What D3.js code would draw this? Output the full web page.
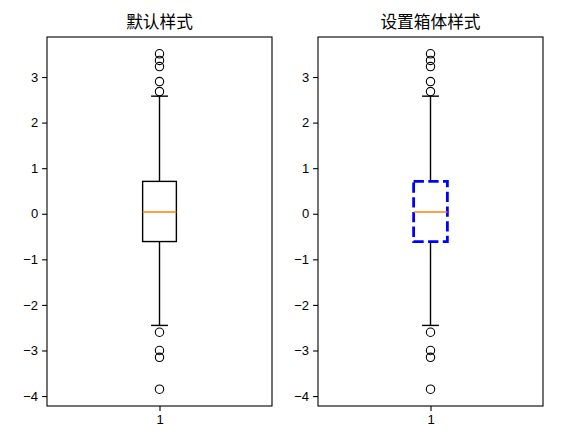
<!DOCTYPE html>
<html>
<head>
<meta charset="utf-8">
<script src="https://d3js.org/d3.v7.min.js"></script>
<style>
body{margin:0;background:#fff;}
svg{display:block;}
text{fill:#000;}
.title{font-family:"Noto Sans CJK SC",sans-serif;}
.tick text{font-family:"Liberation Sans",Arial,sans-serif;}
</style>
</head>
<body>
<div id="chart"></div>
<script>
// box statistics (same sample in both panels)
const titles = ['默认样式', '设置箱体样式'];
const categories = ['1'];
const q1 = [-0.61];
const median = [0.04];
const q3 = [0.71];
const whiskerLow = [-2.45];
const whiskerHigh = [2.58];
const outliers = [3.51, 3.365, 3.23, 2.90, 2.68, -2.60, -3.00, -3.15, -3.85];
const yTicks = [-4, -3, -2, -1, 0, 1, 2, 3];

const width = 572, height = 439;
const panels = [{ left: 47, right: 272 }, { left: 318, right: 543 }];
const plotTop = 37, plotBottom = 406;

const svg = d3.select('#chart').append('svg')
  .attr('width', width)
  .attr('height', height);

const ymin = d3.min([...outliers, ...whiskerLow]);
const ymax = d3.max([...outliers, ...whiskerHigh]);
const pad = (ymax - ymin) * 0.05;

const y = d3.scaleLinear()
  .domain([ymin - pad, ymax + pad])
  .range([plotBottom, plotTop]);

panels.forEach((p, pi) => {
  const x = d3.scaleLinear()
    .domain([0.5, 1.5])
    .range([p.left, p.right]);
  const g = svg.append('g');
  const bw = 0.15;

  // y axis
  const yAxis = d3.axisLeft(y)
    .tickValues(yTicks)
    .tickSize(4.9)
    .tickPadding(4)
    .tickFormat(d => d3.format('d')(d).replace('-', '\u2212'));
  g.append('g')
    .attr('transform', `translate(${p.left},0)`)
    .call(yAxis)
    .call(a => a.select('.domain').remove())
    .call(a => a.selectAll('line').attr('stroke', '#000').attr('stroke-width', 1.1))
    .call(a => a.selectAll('text').attr('font-size', 13));

  // x axis
  const xAxis = d3.axisBottom(x)
    .tickValues([1])
    .tickSize(4.9)
    .tickPadding(4)
    .tickFormat((d, i) => categories[i]);
  g.append('g')
    .attr('transform', `translate(0,${plotBottom})`)
    .call(xAxis)
    .call(a => a.select('.domain').remove())
    .call(a => a.selectAll('line').attr('stroke', '#000').attr('stroke-width', 1.1))
    .call(a => a.selectAll('text').attr('font-size', 13));

  categories.forEach((c, i) => {
    const cx = x(i + 1);
    const lw = 1.4;
    // whiskers
    g.append('line')
      .attr('x1', cx).attr('x2', cx)
      .attr('y1', y(q3[i])).attr('y2', y(whiskerHigh[i]))
      .attr('stroke', '#000').attr('stroke-width', lw);
    g.append('line')
      .attr('x1', cx).attr('x2', cx)
      .attr('y1', y(q1[i])).attr('y2', y(whiskerLow[i]))
      .attr('stroke', '#000').attr('stroke-width', lw);
    // caps
    [whiskerHigh[i], whiskerLow[i]].forEach(v => {
      g.append('line')
        .attr('x1', x(i + 1 - bw / 4)).attr('x2', x(i + 1 + bw / 4))
        .attr('y1', y(v)).attr('y2', y(v))
        .attr('stroke', '#000').attr('stroke-width', lw);
    });
    // box
    const box = g.append('rect')
      .attr('x', x(i + 1 - bw / 2))
      .attr('y', y(q3[i]))
      .attr('width', x(i + 1 + bw / 2) - x(i + 1 - bw / 2))
      .attr('height', y(q1[i]) - y(q3[i]))
      .attr('fill', 'none');
    if (pi === 0) {
      box.attr('stroke', '#000').attr('stroke-width', lw);
    } else {
      box.attr('stroke', '#0000ff').attr('stroke-width', 2.8)
        .attr('stroke-dasharray', '10.3,4.4');
    }
    // median
    g.append('line')
      .attr('x1', x(i + 1 - bw / 2)).attr('x2', x(i + 1 + bw / 2))
      .attr('y1', y(median[i])).attr('y2', y(median[i]))
      .attr('stroke', '#ff7f0e').attr('stroke-width', lw);
    // fliers
    g.selectAll(null)
      .data(outliers)
      .enter()
      .append('circle')
      .attr('cx', cx)
      .attr('cy', d => y(d))
      .attr('r', 4.2)
      .attr('fill', 'none')
      .attr('stroke', '#000')
      .attr('stroke-width', 1.1);
  });

  // frame
  g.append('rect')
    .attr('x', p.left).attr('y', plotTop)
    .attr('width', p.right - p.left).attr('height', plotBottom - plotTop)
    .attr('fill', 'none').attr('stroke', '#000').attr('stroke-width', 1.1);

  // title
  g.append('text')
    .attr('class', 'title')
    .attr('x', (p.left + p.right) / 2)
    .attr('y', plotTop - 9)
    .attr('text-anchor', 'middle')
    .attr('font-size', 16.7)
    .text(titles[pi]);
});
</script>
</body>
</html>
